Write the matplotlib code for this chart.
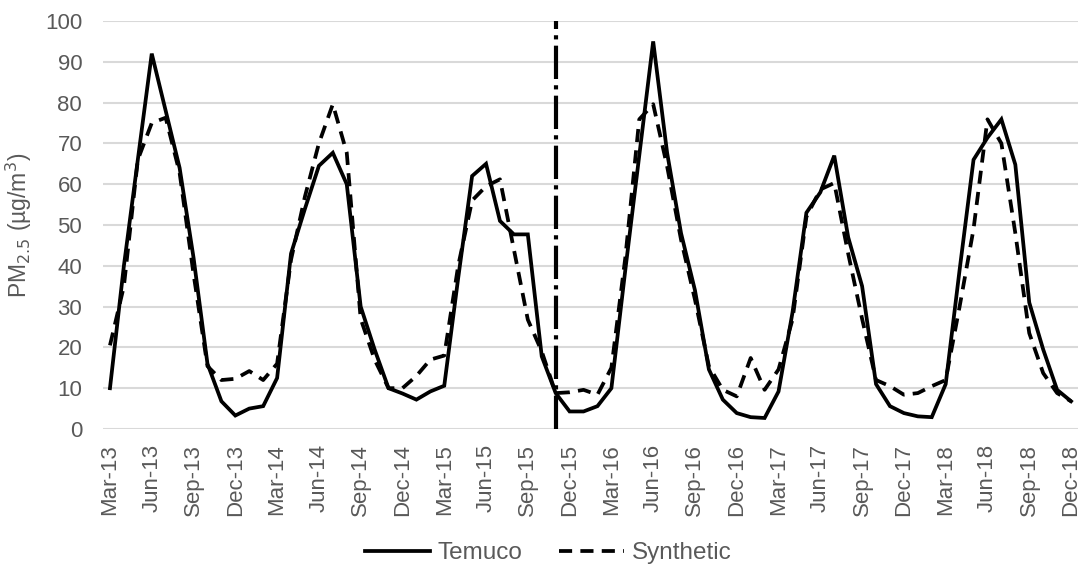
import matplotlib
matplotlib.use("Agg")
import matplotlib.pyplot as plt
from matplotlib.lines import Line2D

plt.rcParams['font.family'] = ['Liberation Sans', 'DejaVu Sans']

months = ["Mar-13","Apr-13","May-13","Jun-13","Jul-13","Aug-13","Sep-13","Oct-13","Nov-13","Dec-13",
          "Jan-14","Feb-14","Mar-14","Apr-14","May-14","Jun-14","Jul-14","Aug-14","Sep-14","Oct-14","Nov-14","Dec-14",
          "Jan-15","Feb-15","Mar-15","Apr-15","May-15","Jun-15","Jul-15","Aug-15","Sep-15","Oct-15","Nov-15","Dec-15",
          "Jan-16","Feb-16","Mar-16","Apr-16","May-16","Jun-16","Jul-16","Aug-16","Sep-16","Oct-16","Nov-16","Dec-16",
          "Jan-17","Feb-17","Mar-17","Apr-17","May-17","Jun-17","Jul-17","Aug-17","Sep-17","Oct-17","Nov-17","Dec-17",
          "Jan-18","Feb-18","Mar-18","Apr-18","May-18","Jun-18","Jul-18","Aug-18","Sep-18","Oct-18","Nov-18","Dec-18"]

temuco = [10, 40, 66, 92, 78, 64, 42, 16, 6.8, 3.3,
          5.0, 5.6, 12.5, 43, 54, 64.5, 67.7, 60, 30, 19.5, 10, 8.7,
          7.2, 9.2, 10.6, 37, 62, 65, 51, 47.7, 47.7, 17.8, 8.8, 4.3,
          4.3, 5.6, 10, 39, 67, 95, 67.7, 48, 34, 14.6, 7.2, 3.9,
          2.9, 2.7, 9.2, 28.5, 53, 58, 67, 47, 35, 11, 5.6, 3.9,
          3.1, 2.9, 11, 39, 66, 71.4, 75.9, 64.8, 31, 19.5, 9.6, 6.8]

synthetic = [20.5, 35, 66, 75, 76.3, 62.8, 38, 15.4, 12, 12.3,
             14.2, 12, 16, 41.5, 57, 70, 79.6, 67.7, 27, 17, 10, 10,
             13, 17, 18, 40, 56, 59.5, 61.2, 44, 26.8, 19, 8.8, 9,
             9.6, 8.4, 15, 42, 75.9, 79.6, 64.4, 46.4, 31.7, 15.4, 9.6, 8,
             17.4, 9.6, 14.6, 26.8, 52, 58.7, 60.3, 43, 27, 12, 10.5, 8.4,
             8.8, 10.5, 12, 30, 49, 75.9, 70, 48, 23.5, 13.7, 8.8, 6.8]

tick_labels = months[::3]
divider_month = "Nov-15"
y_ticks = [0, 10, 20, 30, 40, 50, 60, 70, 80, 90, 100]

text_color = "#595959"
grid_color = "#d9d9d9"
lw = 2.7
dash = (3.5, 2.2)

fig = plt.figure(figsize=(10.84, 5.75), dpi=100)
ax = fig.add_axes([103/1084, 1 - 429/575, (1078-103)/1084, (429-21)/575])

x = list(range(len(months)))
ax.plot(x, temuco, color="black", lw=lw, solid_joinstyle="miter", label="Temuco")
ax.plot(x, synthetic, color="black", lw=lw, dashes=dash, label="Synthetic")

xd = months.index(divider_month)
ax.axvline(xd, color="black", lw=3, dashes=(8, 1.5, 1, 1.5))

ax.set_xlim(-0.5, len(months) - 0.5)
ax.set_ylim(0, 100)
ax.set_yticks(y_ticks)
ax.yaxis.grid(True, color=grid_color, lw=1.5)
ax.set_axisbelow(True)
ax.set_xticks(x[::3])
ax.set_xticklabels(tick_labels, rotation=90, ha="center", va="top")
for s in ax.spines.values():
    s.set_visible(False)
ax.tick_params(axis="both", length=0, labelsize=16, labelcolor=text_color)
ax.tick_params(axis="y", pad=15)
ax.tick_params(axis="x", pad=11)

fig.text(19/1084, 1 - 225/575, "PM$_{2.5}$ (µg/m$^3$)", rotation=90, ha="center", va="center",
         fontsize=16.5, color=text_color)

handles = [Line2D([], [], color="black", lw=lw),
           Line2D([], [], color="black", lw=lw, dashes=dash)]
leg = fig.legend(handles, ["Temuco", "Synthetic"], loc="center", bbox_to_anchor=(548/1084, 1 - 553/575),
                 ncol=2, frameon=False, fontsize=17.5, handlelength=2.7, handletextpad=0.3, columnspacing=1.5)
for t in leg.get_texts():
    t.set_color(text_color)

fig.savefig("out.png", dpi=100)
